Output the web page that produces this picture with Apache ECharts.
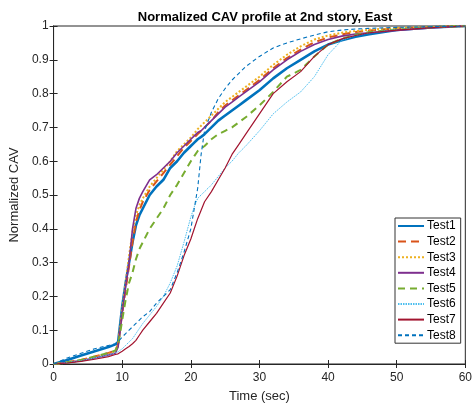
<!DOCTYPE html>
<html>
<head>
<meta charset="utf-8">
<script src="https://cdn.jsdelivr.net/npm/echarts@6/dist/echarts.min.js"></script>
<style>html,body{margin:0;padding:0;background:#fff}#c{width:475px;height:408px}</style>
</head>
<body>
<div id="c"></div>
<script>
var titleText = 'Normalized CAV profile at 2nd story, East';
var xName = 'Time (sec)';
var yName = 'Normalized CAV';
var seriesNames = ['Test1','Test2','Test3','Test4','Test5','Test6','Test7','Test8'];
var time = [0,2,4,6,8,9,9.4,10,10.5,11,11.5,12,12.5,13,14,15,16,17,18,19,20,20.5,21,21.5,22,23,24,25,26,27,28,30,32,34,36,38,40,42,44,46,50,55,60];
var test1 = [0,0.012,0.025,0.038,0.05,0.058,0.065,0.17,0.24,0.3,0.36,0.41,0.44,0.46,0.5,0.525,0.545,0.58,0.6,0.625,0.645,0.655,0.665,0.672,0.68,0.7,0.72,0.735,0.75,0.765,0.78,0.81,0.845,0.875,0.9,0.925,0.945,0.958,0.968,0.976,0.988,0.996,1];
var test2 = [0,0.005,0.012,0.022,0.033,0.04,0.058,0.15,0.22,0.29,0.36,0.42,0.455,0.48,0.515,0.54,0.565,0.59,0.615,0.64,0.66,0.67,0.68,0.69,0.7,0.72,0.745,0.765,0.78,0.795,0.81,0.84,0.875,0.905,0.93,0.952,0.966,0.975,0.982,0.987,0.993,0.997,1];
var test3 = [0,0.004,0.01,0.02,0.03,0.036,0.055,0.16,0.24,0.32,0.39,0.44,0.47,0.49,0.525,0.55,0.575,0.6,0.63,0.65,0.67,0.682,0.695,0.705,0.715,0.735,0.755,0.775,0.79,0.805,0.82,0.85,0.885,0.915,0.94,0.96,0.972,0.98,0.985,0.989,0.994,0.997,1];
var test4 = [0,0.004,0.01,0.018,0.027,0.032,0.05,0.15,0.23,0.3,0.4,0.46,0.49,0.51,0.545,0.56,0.58,0.6,0.625,0.645,0.665,0.675,0.685,0.69,0.7,0.72,0.74,0.76,0.775,0.79,0.805,0.835,0.87,0.9,0.925,0.945,0.96,0.97,0.976,0.98,0.987,0.994,1];
var test5 = [0,0.005,0.012,0.022,0.033,0.04,0.055,0.13,0.19,0.24,0.27,0.31,0.34,0.36,0.4,0.43,0.46,0.5,0.53,0.565,0.6,0.615,0.63,0.638,0.645,0.665,0.68,0.69,0.7,0.715,0.73,0.765,0.805,0.85,0.87,0.91,0.945,0.962,0.974,0.982,0.99,0.996,1];
var test6 = [0,0.004,0.01,0.018,0.027,0.033,0.036,0.045,0.055,0.065,0.075,0.09,0.105,0.12,0.145,0.17,0.2,0.24,0.29,0.36,0.435,0.465,0.49,0.5,0.51,0.53,0.555,0.58,0.6,0.625,0.645,0.69,0.74,0.775,0.805,0.85,0.915,0.958,0.972,0.98,0.99,0.996,1];
var test7 = [0,0.003,0.008,0.014,0.022,0.028,0.03,0.038,0.045,0.052,0.06,0.07,0.085,0.1,0.125,0.15,0.18,0.21,0.26,0.32,0.37,0.4,0.43,0.455,0.48,0.51,0.545,0.58,0.62,0.65,0.68,0.74,0.8,0.835,0.865,0.91,0.945,0.962,0.972,0.98,0.988,0.995,1];
var test8 = [0,0.018,0.032,0.045,0.055,0.06,0.065,0.08,0.09,0.1,0.11,0.12,0.13,0.14,0.155,0.18,0.2,0.22,0.27,0.33,0.4,0.46,0.52,0.62,0.69,0.745,0.785,0.815,0.84,0.86,0.88,0.91,0.935,0.95,0.962,0.973,0.983,0.988,0.991,0.993,0.996,0.998,1];
var allValues = [test1,test2,test3,test4,test5,test6,test7,test8];

var colors = ['#0072BD','#D95319','#EDB120','#7E2F8E','#77AC30','#4DBEEE','#A2142F','#0072BD'];
var styles = [
  {width:2.6,type:'solid'},
  {width:2,type:[8,5]},
  {width:2,type:[2,2]},
  {width:1.6,type:'solid'},
  {width:2,type:[7,5]},
  {width:1,type:[1.5,1]},
  {width:1.2,type:'solid'},
  {width:1.1,type:[4,3]}
];

var font = 'Liberation Sans, Arial, Helvetica, sans-serif';
var axisCol = '#262626';

var series = seriesNames.map(function(n,i){
  return {
    name:n, type:'line', showSymbol:false, symbol:'none',
    data: time.map(function(t,k){return [t, allValues[i][k]];}),
    lineStyle:{color:colors[i], width:styles[i].width, type:styles[i].type},
    itemStyle:{color:colors[i]},
    xAxisIndex:0, yAxisIndex:0
  };
});

var chart = echarts.init(document.getElementById('c'), null, {renderer:'canvas'});
chart.setOption({
  animation:false,
  backgroundColor:'#fff',
  title:{text:titleText, left:260, top:6, textAlign:'center',
    textStyle:{fontFamily:font, fontSize:13, fontWeight:'bold', color:'#000'}},
  grid:{left:51, right:7, top:26, bottom:43, show:true, borderColor:axisCol, borderWidth:1},
  legend:{
    orient:'vertical', left:395, top:218, itemWidth:26, itemHeight:12, itemGap:3.6,
    backgroundColor:'#fff', borderColor:'#333', borderWidth:1, padding:[2,5,2,2],
    itemStyle:{opacity:0, color:'rgba(0,0,0,0)', borderWidth:0},
    textStyle:{fontFamily:font, fontSize:12, color:'#000', padding:[0,0,0,-2]},
    data: seriesNames
  },
  xAxis:[
    {type:'value', min:0, max:60, interval:10, name:xName, nameLocation:'middle', nameGap:26,
     nameTextStyle:{fontFamily:font, fontSize:13, color:axisCol},
     axisLine:{show:true, onZero:false, lineStyle:{color:axisCol}},
     axisTick:{show:true, inside:true, length:4, lineStyle:{color:axisCol}},
     axisLabel:{fontFamily:font, fontSize:12, color:axisCol, margin:8},
     splitLine:{show:false}},
    {type:'value', position:'top', min:0, max:60, interval:10,
     axisLine:{show:true, lineStyle:{color:axisCol}},
     axisTick:{show:true, inside:true, length:4, lineStyle:{color:axisCol}},
     axisLabel:{show:false}, splitLine:{show:false}}
  ],
  yAxis:[
    {type:'value', min:0, max:1, interval:0.1, name:yName, nameLocation:'middle', nameGap:32,
     nameTextStyle:{fontFamily:font, fontSize:13, color:axisCol},
     axisLine:{show:true, onZero:false, lineStyle:{color:axisCol}},
     axisTick:{show:true, inside:true, length:4, lineStyle:{color:axisCol}},
     axisLabel:{fontFamily:font, fontSize:12, color:axisCol, margin:5},
     splitLine:{show:false}},
    {type:'value', position:'right', min:0, max:1, interval:0.1,
     axisLine:{show:true, lineStyle:{color:axisCol}},
     axisTick:{show:true, inside:true, length:4, lineStyle:{color:axisCol}},
     axisLabel:{show:false}, splitLine:{show:false}}
  ],
  series: series
});
</script>
</body>
</html>
